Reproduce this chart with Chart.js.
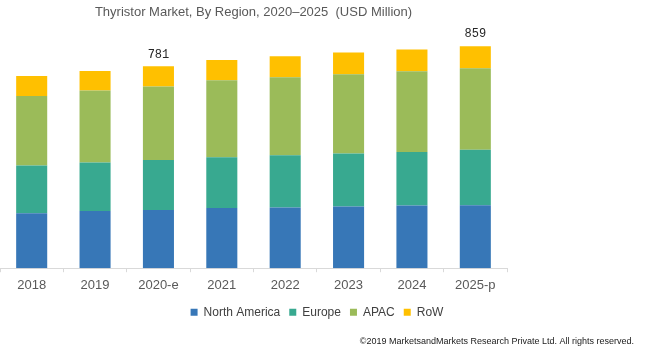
<!DOCTYPE html>
<html>
<head>
<meta charset="utf-8">
<script src="https://cdn.jsdelivr.net/npm/chart.js@4"></script>
<style>
  html, body { margin: 0; padding: 0; background: #ffffff; }
  #wrap { width: 650px; height: 355px; position: relative; }
</style>
</head>
<body>
<div id="wrap"><canvas id="c" width="650" height="355"></canvas></div>
<script>
const categories = ['2018', '2019', '2020-e', '2021', '2022', '2023', '2024', '2025-p'];
const northAmerica = [213, 221, 225, 233, 235, 239, 243, 244];
const europe       = [184, 188, 194, 196, 202, 205, 207, 214];
const apac         = [269, 279, 284, 298, 302, 306, 312, 316];
const row          = [ 78,  75,  78,  79,  81,  85,  84,  85];
const labeledCategories = ['2020-e', '2025-p'];
const seriesNames = ['North America', 'Europe', 'APAC', 'RoW'];
const titleText = 'Thyristor Market, By Region, 2020\u20132025  (USD Million)';
const sourceText = '\u00A92019 MarketsandMarkets Research Private Ltd. All rights reserved.';

const colors = ['#3777B7', '#38A990', '#9BBB59', '#FFC000'];
const seriesData = [northAmerica, europe, apac, row];

const totalsPlugin = {
  id: 'totals',
  afterDatasetsDraw(chart) {
    const ctx = chart.ctx;
    const lastMeta = chart.getDatasetMeta(chart.data.datasets.length - 1);
    ctx.save();
    ctx.font = '12px "Liberation Mono", "DejaVu Sans Mono", monospace';
    ctx.fillStyle = '#262626';
    ctx.textAlign = 'center';
    ctx.textBaseline = 'middle';
    categories.forEach((cat, i) => {
      if (!labeledCategories.includes(cat)) return;
      const total = seriesData.reduce((s, arr) => s + arr[i], 0);
      const el = lastMeta.data[i];
      ctx.fillText(String(total), el.x, el.y - 12);
    });
    ctx.restore();
  }
};

new Chart(document.getElementById('c'), {
  type: 'bar',
  data: {
    labels: categories,
    datasets: seriesData.map((d, i) => ({
      label: seriesNames[i],
      data: d,
      backgroundColor: colors[i],
      borderWidth: 0,
      categoryPercentage: 1.0,
      barPercentage: 0.49
    }))
  },
  options: {
    responsive: false,
    animation: false,
    devicePixelRatio: 1,
    layout: { padding: { left: 0, right: 16, top: 0, bottom: 0 } },
    scales: {
      x: {
        stacked: true,
        grid: { display: true, drawOnChartArea: false, tickLength: 4, color: '#D9D9D9', offset: true },
        border: { display: true, color: '#D9D9D9' },
        ticks: { color: '#595959', font: { family: '"Liberation Sans", Arial, sans-serif', size: 13, lineHeight: 1.0 }, padding: 7, maxRotation: 0 },
        afterFit(scale) { scale.height -= 2; }
      },
      y: {
        stacked: true,
        display: false,
        min: 0,
        max: 900
      },
      y2: {
        position: 'right',
        display: true,
        grid: { display: false },
        border: { display: false },
        ticks: { display: false },
        afterFit(scale) { scale.width = 127; }
      }
    },
    plugins: {
      title: {
        display: true,
        text: titleText,
        fullSize: false,
        color: '#595959',
        font: { family: '"Liberation Sans", Arial, sans-serif', size: 13, weight: 'normal' },
        padding: { top: 5, bottom: 15 }
      },
      subtitle: {
        display: true,
        text: sourceText,
        position: 'bottom',
        align: 'end',
        color: '#1a1a1a',
        font: { family: '"Liberation Sans", Arial, sans-serif', size: 9, weight: 'normal' },
        padding: { top: 8, bottom: 8 }
      },
      legend: {
        position: 'bottom',
        labels: {
          boxWidth: 7,
          boxHeight: 7,
          padding: 9,
          color: '#404040',
          font: { family: '"Liberation Sans", Arial, sans-serif', size: 12 }
        }
      },
      tooltip: { enabled: false }
    }
  },
  plugins: [totalsPlugin]
});
</script>
</body>
</html>
